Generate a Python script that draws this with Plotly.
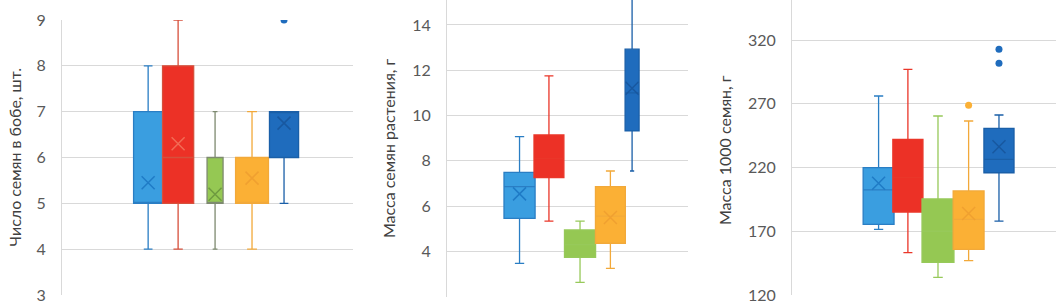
import plotly.graph_objects as go

# ---------------- data ----------------
groups = ["1", "2", "3", "4", "5"]

# Panel 1: Число семян в бобе, шт.
p1_low    = [4, 4, 4, 4, 5]
p1_q1     = [5, 5, 5, 5, 6]
p1_median = [5, 6, 5, 5, 7]
p1_q3     = [7, 8, 6, 6, 7]
p1_high   = [8, 9, 7, 7, 7]
p1_mean   = [5.45, 6.3, 5.2, 5.55, 6.75]
p1_outliers = [[], [], [], [], [9]]

# Panel 2: Масса семян растения, г
p2_low    = [3.47, 5.34, 2.63, 3.25, 7.55]
p2_q1     = [5.46, 7.26, 3.74, 4.36, 9.32]
p2_median = [6.86, 8.1, 4.3, 5.56, 11.0]
p2_q3     = [7.49, 9.14, 4.95, 6.86, 12.93]
p2_high   = [9.07, 11.75, 5.34, 7.55, 16.0]
p2_mean   = [6.54, None, None, 5.5, 11.2]
p2_outliers = [[], [], [], [], []]

# Panel 3: Масса 1000 семян, г
p3_low    = [171.5, 153.2, 133.9, 146.9, 178.0]
p3_q1     = [175.4, 185.1, 145.6, 155.8, 215.9]
p3_median = [202.4, 212.0, 170.0, 179.3, 226.4]
p3_q3     = [219.9, 242.1, 195.3, 201.6, 250.7]
p3_high   = [276.1, 297.0, 260.4, 256.5, 261.2]
p3_mean   = [207.6, None, None, 184.0, 236.3]
p3_outliers = [[], [], [], [268.8], [301.7, 312.7]]

titles = ["Число семян в бобе, шт.", "Масса семян растения, г", "Масса 1000 семян, г"]

# ---------------- styling ----------------
fills = ["#3A9EE0", "#EC3126", "#95C853", "#FBB035", "#1F6CBD"]
lines_p = [
    ["#2A7EC4", "#D6503C", "#7E8A70", "#F2A93A", "#1A5FA8"],
    ["#2A7EC4", "#EA3629", "#97C95A", "#F2A93A", "#1A5FA8"],
    ["#2A7EC4", "#EA3629", "#97C95A", "#F2A93A", "#1A5FA8"],
]
mean_cols = ["#1F7BC6", "#F26B55", "#6E9A40", "#F0A030", "#1858A0"]

positions = [
    [2.96, 3.99, 5.26, 6.53, 7.63],
    [3.01, 4.23, 5.52, 6.78, 7.68],
    [3.28, 4.39, 5.53, 6.69, 7.84],
]
widths = [
    [1.0, 1.07, 0.55, 1.13, 1.0],
    [1.29, 1.24, 1.29, 1.24, 0.58],
    [1.17, 1.14, 1.21, 1.17, 1.14],
]

panels = [
    (p1_low, p1_q1, p1_median, p1_q3, p1_high, p1_mean, p1_outliers),
    (p2_low, p2_q1, p2_median, p2_q3, p2_high, p2_mean, p2_outliers),
    (p3_low, p3_q1, p3_median, p3_q3, p3_high, p3_mean, p3_outliers),
]

W, H = 1056, 304
xdom = [(62 / W, 353 / W), (447 / W, 688 / W), (792 / W, 1.0)]
ydom = [(1 - 295 / H, 1 - 20 / H), (1 - 296.7 / H, 1.0), (1 - 295 / H, 1.0)]
yranges = [[3, 9], [2, 15.1], [120, 351.4]]
ydtick = [1, 2, 50]

FONT = "Lato, 'Open Sans', sans-serif"

fig = go.Figure()
for pi, (lo, q1, med, q3, hi, mean, outl) in enumerate(panels):
    xa = "x" if pi == 0 else f"x{pi+1}"
    ya = "y" if pi == 0 else f"y{pi+1}"
    for gi in range(len(groups)):
        fig.add_trace(go.Box(
            x=[positions[pi][gi]], q1=[q1[gi]], median=[med[gi]], q3=[q3[gi]],
            lowerfence=[lo[gi]], upperfence=[hi[gi]],
            width=widths[pi][gi], fillcolor=fills[gi],
            line=dict(color=lines_p[pi][gi], width=1.3),
            whiskerwidth=0.3, boxpoints=False, showlegend=False,
            xaxis=xa, yaxis=ya, name=groups[gi],
        ))
        if mean[gi] is not None:
            fig.add_trace(go.Scatter(
                x=[positions[pi][gi]], y=[mean[gi]], mode="markers",
                marker=dict(symbol="x-thin-open", size=13, color=mean_cols[gi],
                            line=dict(color=mean_cols[gi], width=1.5)),
                showlegend=False, xaxis=xa, yaxis=ya,
            ))
        if outl[gi]:
            fig.add_trace(go.Scatter(
                x=[positions[pi][gi]] * len(outl[gi]), y=outl[gi], mode="markers",
                marker=dict(symbol="circle", size=7, color=fills[gi]),
                showlegend=False, xaxis=xa, yaxis=ya,
            ))

layout = dict(
    width=W, height=H, autosize=False,
    margin=dict(l=0, r=0, t=0, b=0, pad=0, autoexpand=False),
    paper_bgcolor="white", plot_bgcolor="white",
    boxmode="overlay", font=dict(family=FONT, color="#595959"),
)
for pi in range(3):
    sx = "" if pi == 0 else str(pi + 1)
    layout[f"xaxis{sx}"] = dict(domain=list(xdom[pi]), range=[0, 10], visible=False,
                                anchor=f"y{sx}", automargin=False)
    layout[f"yaxis{sx}"] = dict(
        domain=list(ydom[pi]), range=yranges[pi], dtick=ydtick[pi], tick0=yranges[pi][0],
        anchor=f"x{sx}", showgrid=True, gridcolor="#D9D9D9", gridwidth=1,
        zeroline=False, showline=True, linecolor="#D9D9D9", linewidth=1,
        ticks="outside", ticklen=12, tickcolor="rgba(0,0,0,0)", automargin=False,
        tickfont=dict(size=16, color="#595959", family=FONT),
    )
fig.update_layout(**layout)

title_x = [14, 388, 724]
title_y = [157.5, 148, 150]
for pi in range(3):
    fig.add_annotation(
        text=titles[pi], xref="paper", yref="paper",
        x=title_x[pi] / W, y=1 - title_y[pi] / H, textangle=-90,
        showarrow=False, xanchor="center", yanchor="middle",
        font=dict(size=16, color="#404040", family=FONT),
    )

fig.write_html(
    "out.html",
    config={"displayModeBar": False, "responsive": False},
    post_script="document.body.style.margin='0';document.body.style.padding='0';",
)
